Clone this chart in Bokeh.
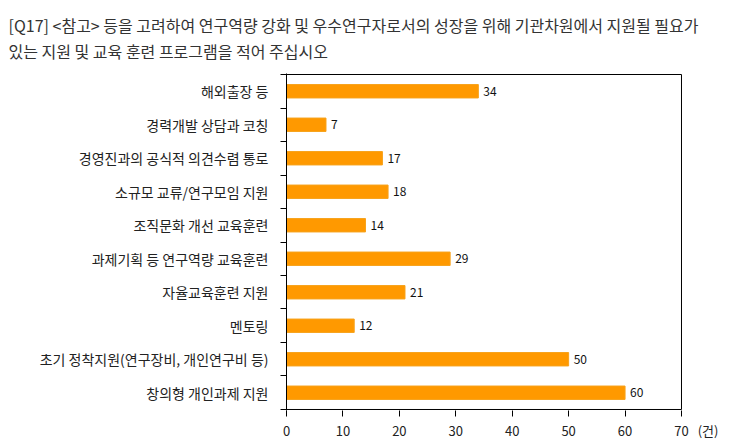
from bokeh.plotting import figure
from bokeh.models import Range1d, FixedTicker, Title, ColumnDataSource
from bokeh.core.properties import value
from bokeh.embed import file_html
from bokeh.resources import INLINE

categories = [
    "해외출장 등",
    "경력개발 상담과 코칭",
    "경영진과의 공식적 의견수렴 통로",
    "소규모 교류/연구모임 지원",
    "조직문화 개선 교육훈련",
    "과제기획 등 연구역량 교육훈련",
    "자율교육훈련 지원",
    "멘토링",
    "초기 정착지원(연구장비, 개인연구비 등)",
    "창의형 개인과제 지원",
]
counts = [34, 7, 17, 18, 14, 29, 21, 12, 50, 60]
x_ticks = [0, 10, 20, 30, 40, 50, 60, 70]
title_lines = [
    "[Q17]  <참고> 등을 고려하여 연구역량 강화 및 우수연구자로서의 성장을 위해 기관차원에서 지원될 필요가",
    "있는 지원 및 교육 훈련 프로그램을 적어 주십시오",
]
unit_label = "(건)"

FONT = "Noto Sans CJK KR"
n = len(categories)
xmax = x_ticks[-1]
ypos = [n - i - 0.5 for i in range(n)]
pad = 0.03

src = ColumnDataSource(dict(y=ypos, v=counts, t=[str(c) for c in counts]))

# frame extends a little past the 70 mark so the unit can sit as an axis label
p = figure(width=730, height=444, output_backend="svg", toolbar_location=None,
           x_range=Range1d(0, 77.8), y_range=Range1d(-pad, n + pad),
           min_border_left=286, min_border_right=5, min_border_top=71, min_border_bottom=34)
p.background_fill_color = "white"
p.border_fill_color = "white"
p.outline_line_color = None
p.grid.visible = False

p.hbar(y="y", right="v", left=0, height=0.4, source=src,
       fill_color="#FF9900", line_color="#F7A21B", line_width=1)
p.text(x="v", y="y", text="t", source=src, x_offset=5, text_baseline="middle",
       text_font=value(FONT), text_font_size="12px", text_color="#111111")

# plot-area border: bottom, top and right edges up to the 70 mark
p.segment(x0=[0, 0, xmax], y0=[0, n, 0], x1=[xmax, xmax, xmax], y1=[0, n, n],
          line_color="#000000", line_width=1)

# x axis (ticks drawn as minor ticks, the unit as an extra tick label)
unit_pos = xmax + 4.7
xa = p.xaxis[0]
xa.ticker = FixedTicker(ticks=x_ticks + [unit_pos], minor_ticks=x_ticks)
xa.major_label_overrides = {unit_pos: unit_label}
xa.axis_line_color = None
xa.major_tick_line_color = None
xa.major_tick_out = 6
xa.major_tick_in = 0
xa.minor_tick_line_color = "#000000"
xa.minor_tick_out = 6
xa.minor_tick_in = 0
xa.major_label_text_font = FONT
xa.major_label_text_font_size = "13px"
xa.major_label_text_color = "#222222"
xa.major_label_standoff = 4

# y axis
ya = p.yaxis[0]
ya.ticker = FixedTicker(ticks=ypos, minor_ticks=list(range(n + 1)))
ya.major_label_overrides = {y: c for y, c in zip(ypos, categories)}
ya.axis_line_color = "#000000"
ya.major_tick_line_color = None
ya.major_tick_out = 0
ya.major_tick_in = 0
ya.minor_tick_line_color = "#000000"
ya.minor_tick_out = 6
ya.minor_tick_in = 0
ya.major_label_text_font = FONT
ya.major_label_text_font_size = "14px"
ya.major_label_text_color = "#222222"
ya.major_label_standoff = 12

p.add_layout(Title(text="\n".join(title_lines), align="left", offset=-278, text_font=FONT,
                   text_font_size="16px", text_font_style="normal", text_line_height=1.12,
                   text_color="#333333", standoff=20), "above")

open("out.html", "w").write(file_html(p, INLINE))
